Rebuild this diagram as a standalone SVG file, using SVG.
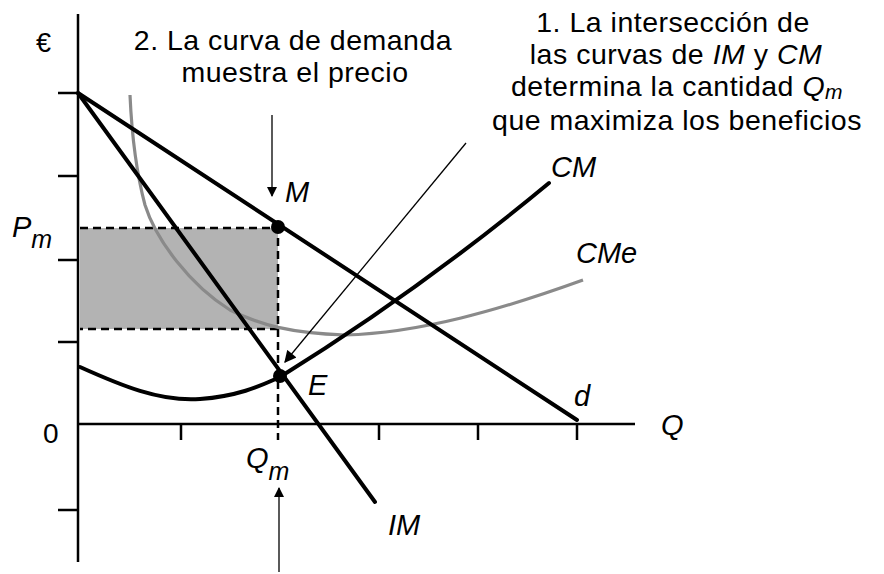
<svg xmlns="http://www.w3.org/2000/svg" width="884" height="574" viewBox="0 0 884 574">
<style>
text{font-family:"Liberation Sans",Arial,sans-serif;fill:#000}
.ann{font-size:28.5px;text-anchor:middle;letter-spacing:0.5px}
.lab{font-size:29px;font-style:italic}
.sub{font-size:25px;font-style:italic}
.axis{stroke:#000;stroke-width:2.5;fill:none}
.thick{stroke:#000;stroke-width:4;fill:none;stroke-linecap:round}
.dash{stroke:#000;stroke-width:2.5;stroke-dasharray:8 5;fill:none}
.thin{stroke:#000;stroke-width:1.3;fill:none}
</style>
<defs>
<marker id="ah" viewBox="0 0 10 10" refX="9" refY="5" markerWidth="10" markerHeight="10" markerUnits="userSpaceOnUse" orient="auto"><path d="M0,0 L10,5 L0,10 z" fill="#000"/></marker>
<marker id="ah2" viewBox="0 0 10 10" refX="9" refY="5" markerWidth="14" markerHeight="12" markerUnits="userSpaceOnUse" orient="auto"><path d="M0,0 L10,5 L0,10 z" fill="#000"/></marker>
</defs>
<rect width="884" height="574" fill="#fff"/>
<g id="shaded">
<rect x="80" y="228" width="198" height="101" fill="#b3b3b3"/>
<path class="dash" d="M80,228 H278 V329 H80"/>
<path class="dash" d="M278,329 V440"/>
</g>
<g id="axes">
<path class="axis" d="M78,14 V562"/>
<path class="axis" d="M78,424 H635"/>
<path class="axis" d="M58,93 H78 M58,176 H78 M58,260 H78 M58,342 H78 M58,510 H78"/>
<path class="axis" d="M181,424 V440 M379,424 V440 M478,424 V440 M577,424 V440"/>
</g>
<g id="curves">
<path d="M130,95 C132,140 137,175 145,205 C156,240 190,285 230,310 C260,325 290,333 345,335 C420,333 500,310 583,280" stroke="#8a8a8a" stroke-width="3.2" fill="none"/>
<path class="thick" d="M80,367 C120,385 160,402 200,399 C240,396 262,385 280,377"/>
<path class="thick" d="M280,377 Q420,290 549,183"/>
<path class="thick" d="M78,93 L577,420"/>
<path class="thick" d="M78,93 L375,502"/>
<circle cx="278" cy="227" r="7" fill="#000"/>
<circle cx="280" cy="376" r="7" fill="#000"/>
</g>
<g id="connectors">
<path class="thin" d="M272,115 V196" marker-end="url(#ah)"/>
<path class="thin" d="M279,572 V488" marker-end="url(#ah)"/>
<path class="thin" d="M466,143 L285,362" marker-end="url(#ah2)"/>
</g>
<g id="labels">
<text x="36" y="52" style="font-size:27px">€</text>
<text x="43" y="443" style="font-size:28px">0</text>
<text x="12" y="237" class="lab">P<tspan class="sub" dy="11">m</tspan></text>
<text x="285" y="202" class="lab">M</text>
<text x="308" y="395" class="lab">E</text>
<text x="246" y="468" class="lab">Q<tspan class="sub" dy="12">m</tspan></text>
<text x="388" y="535" class="lab">IM</text>
<text x="574" y="406" class="lab">d</text>
<text x="661" y="435" class="lab">Q</text>
<text x="551" y="177" class="lab">CM</text>
<text x="576" y="263" class="lab">CMe</text>
</g>
<g id="note2">
<text class="ann" x="293" y="50">2. La curva de demanda</text>
<text class="ann" x="295" y="82">muestra el precio</text>
</g>
<g id="note1">
<text class="ann" x="673" y="32">1. La intersección de</text>
<text class="ann" x="676" y="64">las curvas de <tspan font-style="italic">IM</tspan> y <tspan font-style="italic">CM</tspan></text>
<text class="ann" x="677" y="96">determina la cantidad <tspan font-style="italic">Q</tspan><tspan font-style="italic" font-size="21" dy="3">m</tspan></text>
<text class="ann" x="677" y="130">que maximiza los beneficios</text>
</g>
</svg>
